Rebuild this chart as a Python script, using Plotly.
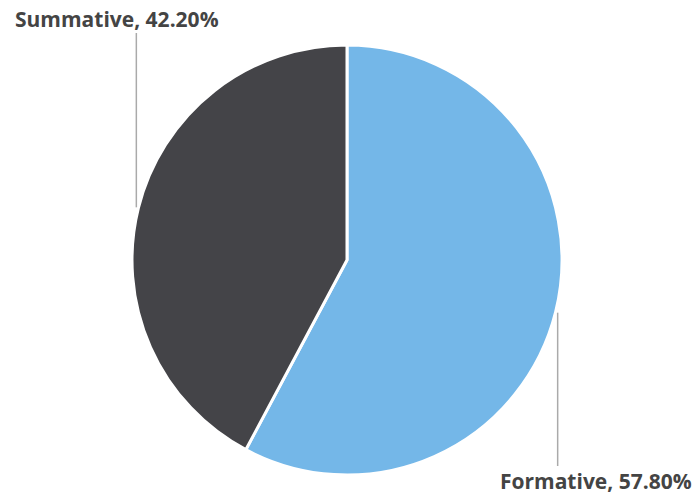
import math
import plotly.graph_objects as go

labels = ["Formative", "Summative"]
values = [57.80, 42.20]
colors = ["#74b7e8", "#444448"]

W, H = 696, 494
cx, cy, r = 347, 260, 215

fig = go.Figure(go.Pie(
    labels=labels, values=values, sort=False, direction="clockwise", rotation=0,
    marker=dict(colors=colors, line=dict(color="white", width=3)),
    textinfo="none", hoverinfo="label+percent", showlegend=False,
    domain=dict(x=[(cx - r) / W, (cx + r) / W], y=[1 - (cy + r) / H, 1 - (cy - r) / H]),
))

def px(x):
    return x / W

def py(y):
    return 1 - y / H

total = sum(values)
cum = 0
shapes = []
annotations = []
for lab, v in zip(labels, values):
    mid = (cum + v / 2) / total * 2 * math.pi
    cum += v
    sx = cx + r * 1.01 * math.sin(mid)
    sy = cy - r * 1.01 * math.cos(mid)
    if sy < cy:
        ey = 33
        ty = 19
    else:
        ey = 466
        ty = 481
    shapes.append(dict(type="line", xref="paper", yref="paper",
                       x0=px(sx), y0=py(sy), x1=px(sx), y1=py(ey),
                       line=dict(color="#aaaaaa", width=1.5)))
    tx = 117 if sx < cx else 596
    annotations.append(dict(xref="paper", yref="paper", x=px(tx), y=py(ty),
                            text=f"<b>{lab}, {v:.2f}%</b>", showarrow=False,
                            xanchor="center", yanchor="middle",
                            font=dict(family="Open Sans", size=21, color="#444444")))

fig.update_layout(width=W, height=H, margin=dict(l=0, r=0, t=0, b=0),
                  paper_bgcolor="white", plot_bgcolor="white",
                  shapes=shapes, annotations=annotations)
fig.write_html("out.html", config={"displayModeBar": False},
               post_script="document.body.style.margin='0';document.body.style.overflow='hidden';")
